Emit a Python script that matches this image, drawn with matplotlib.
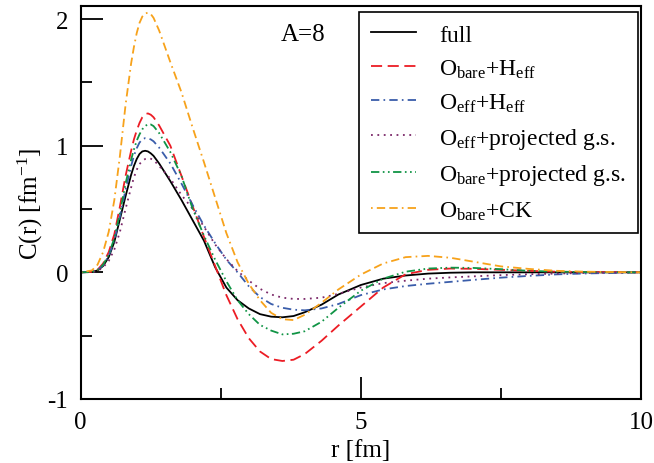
import matplotlib
matplotlib.use("Agg")
import matplotlib.pyplot as plt
from matplotlib.ticker import MultipleLocator

plt.rcParams["font.family"] = ["Liberation Serif", "DejaVu Serif"]
plt.rcParams["mathtext.fontset"] = "custom"
plt.rcParams["mathtext.rm"] = "Liberation Serif"
plt.rcParams["mathtext.it"] = "Liberation Serif:italic"
plt.rcParams["lines.scale_dashes"] = False
plt.rcParams["axes.unicode_minus"] = False

# values (r in fm, C(r) in fm^-1)
r = [0, 0.2, 0.3, 0.4, 0.5, 0.6, 0.7, 0.8, 0.9, 0.95, 1.0, 1.05, 1.1, 1.15, 1.2, 1.25, 1.3, 1.4, 1.6, 1.8,
     2.0, 2.2, 2.4, 2.6, 2.8, 3.0, 3.2, 3.4, 3.6, 3.8, 4.0, 4.3, 4.6, 5.0, 5.4, 5.8,
     6.2, 6.6, 7.0, 7.5, 8.0, 8.5, 9.0, 10.0]

full = [0, 0.003, 0.015, 0.05, 0.12, 0.24, 0.42, 0.60, 0.77, 0.84, 0.895, 0.935, 0.955, 0.96, 0.955, 0.94, 0.92, 0.86, 0.72, 0.57,
        0.41, 0.25, 0.04, -0.12, -0.22, -0.285, -0.33, -0.35, -0.355, -0.345, -0.315, -0.255, -0.175, -0.10, -0.05, -0.025,
        -0.01, -0.003, 0, 0, 0, 0, 0, 0]

bare_heff = [0, 0.003, 0.02, 0.07, 0.16, 0.30, 0.52, 0.76, 0.96, 1.05, 1.12, 1.18, 1.225, 1.25, 1.255, 1.245, 1.225, 1.16, 1.00, 0.76,
             0.52, 0.28, 0.05, -0.18, -0.37, -0.52, -0.625, -0.685, -0.70, -0.69, -0.645, -0.54, -0.42, -0.27, -0.12, -0.015,
             0.02, 0.03, 0.028, 0.02, 0.012, 0.005, 0.002, 0]

eff_heff = [0, 0.003, 0.017, 0.055, 0.13, 0.25, 0.44, 0.65, 0.84, 0.92, 0.98, 1.025, 1.05, 1.06, 1.058, 1.05, 1.035, 0.985, 0.86, 0.70,
            0.53, 0.37, 0.23, 0.10, 0.0, -0.11, -0.195, -0.25, -0.28, -0.295, -0.30, -0.285, -0.25, -0.18, -0.135, -0.108,
            -0.09, -0.075, -0.06, -0.042, -0.028, -0.016, -0.009, 0]

eff_proj = [0, 0.002, 0.01, 0.04, 0.09, 0.18, 0.32, 0.50, 0.67, 0.75, 0.81, 0.855, 0.88, 0.895, 0.90, 0.897, 0.888, 0.84, 0.74, 0.61,
            0.50, 0.36, 0.22, 0.105, 0.01, -0.065, -0.13, -0.175, -0.20, -0.21, -0.21, -0.20, -0.17, -0.12, -0.085, -0.066,
            -0.05, -0.04, -0.032, -0.022, -0.015, -0.01, -0.005, 0]

bare_proj = [0, 0.003, 0.018, 0.06, 0.14, 0.27, 0.47, 0.70, 0.89, 0.97, 1.04, 1.09, 1.13, 1.155, 1.17, 1.168, 1.155, 1.10, 0.95, 0.76,
             0.50, 0.29, 0.10, -0.07, -0.22, -0.33, -0.415, -0.46, -0.49, -0.485, -0.465, -0.39, -0.28, -0.145, -0.05, 0.005,
             0.03, 0.037, 0.035, 0.025, 0.012, 0.005, 0.002, 0]

bare_ck = [0, 0.015, 0.06, 0.16, 0.32, 0.57, 0.92, 1.32, 1.65, 1.78, 1.89, 1.97, 2.02, 2.045, 2.05, 2.04, 2.01, 1.91, 1.66, 1.42,
           1.14, 0.87, 0.59, 0.31, 0.08, -0.09, -0.22, -0.32, -0.37, -0.377, -0.335, -0.24, -0.135, -0.018, 0.07, 0.12,
           0.13, 0.115, 0.085, 0.047, 0.027, 0.012, 0.005, 0]

fig = plt.figure(figsize=(6.54, 4.64), dpi=100)
ax = fig.add_axes([0.1234, 0.138, 0.8566, 0.846])

lw = 1.3
ax.plot(r, full, color="black", lw=lw, label="full")
ax.plot(r, bare_heff, color="#ec1c24", lw=lw, dashes=(8, 4),
        label=r"O$_\mathrm{bare}$+H$_\mathrm{eff}$")
ax.plot(r, eff_heff, color="#3a5daa", lw=lw, dashes=(6, 3, 1.2, 3),
        label=r"O$_\mathrm{eff}$+H$_\mathrm{eff}$")
ax.plot(r, eff_proj, color="#7b2869", lw=lw, dashes=(1.3, 3.3),
        label=r"O$_\mathrm{eff}$+projected g.s.")
ax.plot(r, bare_proj, color="#109445", lw=lw, dashes=(6, 2.5, 1.2, 2.5, 1.2, 2.5),
        label=r"O$_\mathrm{bare}$+projected g.s.")
ax.plot(r, bare_ck, color="#f7a21b", lw=lw, dashes=(1.2, 3, 6, 3, 6, 3),
        label=r"O$_\mathrm{bare}$+CK")

ax.set_xlim(0, 10)
ax.set_ylim(-1, 2.1)
ax.xaxis.set_major_locator(MultipleLocator(5))
ax.xaxis.set_minor_locator(MultipleLocator(2.5))
ax.yaxis.set_major_locator(MultipleLocator(1))
ax.yaxis.set_minor_locator(MultipleLocator(0.5))
ax.tick_params(which="major", direction="in", length=16, width=1.3, labelsize=18, pad=9)
ax.tick_params(which="minor", direction="in", length=8, width=1.3)
ax.tick_params(top=False, right=False, which="both")
for s in ax.spines.values():
    s.set_linewidth(1.5)

ax.set_xlabel("r [fm]", fontsize=18, labelpad=4)
ax.set_ylabel(r"C(r) [fm$^{-1}$]", fontsize=18, labelpad=2)
ax.text(3.97, 1.88, "A=8", fontsize=18, ha="center", va="center")

leg = ax.legend(loc="upper right", bbox_to_anchor=(0.994, 0.985), fontsize=17,
                frameon=True, fancybox=False, edgecolor="black", framealpha=1,
                handlelength=1.9, handletextpad=1.0, labelspacing=0.5,
                borderpad=0.5, borderaxespad=0)
leg.get_frame().set_linewidth(1.2)

fig.savefig("out.png", dpi=100)
